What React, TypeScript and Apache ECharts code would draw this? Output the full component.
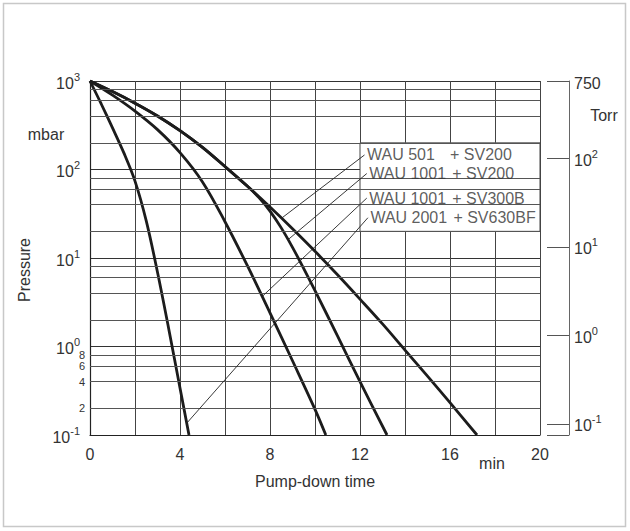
import React, { useEffect, useRef } from 'react';
import * as echarts from 'echarts';

const FONT = '"Liberation Sans", Arial, Helvetica, sans-serif';
const TEXT = '#333333';
const TORR_PER_MBAR = 0.750062;

// x axis (minutes)
const xMin = 0;
const xMax = 20;
const xStep = 2;
const xLabelEvery = 4;

// y axis (mbar)
const yMin = 0.1;
const yMax = 1000;
const minorGridValues = [0.2, 0.4, 0.6, 0.8, 2, 4, 6, 8, 20, 40, 60, 80, 200, 400, 600, 800];
const minorLabelValues = [0.2, 0.4, 0.6, 0.8];

// curves: [minutes, mbar]
const curveWAU501_SV200: [number, number][] = [
  [0, 1000], [1, 759], [2, 562], [3, 403], [4, 275], [5, 178], [6, 108], [7, 64.6], [8, 37.6],
  [9, 21.4], [10, 11.9], [11, 6.46], [12, 3.43], [13, 1.8], [14, 0.912], [15, 0.462], [16, 0.232], [17.2, 0.1],
];
const curveWAU1001_SV200: [number, number][] = [
  [0, 1000], [1, 759], [2, 562], [3, 403], [4, 275], [5, 178], [6, 108], [7, 64.6], [7.5, 48.4],
  [8, 33.9], [8.5, 21.9], [9, 13.2], [9.5, 7.59], [10, 4.27], [11, 1.32], [12, 0.4], [13.2, 0.1],
];
const curveWAU1001_SV300B: [number, number][] = [
  [0, 1000], [1, 692], [2, 457], [3, 282], [4, 155], [5, 72.4], [6, 25.7], [7, 8.13], [8, 2.4],
  [9, 0.69], [10, 0.195], [10.48, 0.1],
];
const curveWAU2001_SV630BF: [number, number][] = [
  [0, 1000], [0.5, 550], [1.0, 295], [1.5, 155], [2.0, 74], [2.5, 26.3], [3.0, 6.9], [3.5, 1.58],
  [4.0, 0.34], [4.4, 0.1],
];
const curves = [curveWAU501_SV200, curveWAU1001_SV200, curveWAU1001_SV300B, curveWAU2001_SV630BF];

// legend texts and leader lines
const legendModels = ['WAU 501', 'WAU 1001', 'WAU 1001', 'WAU 2001'];
const legendPumps = ['SV200', 'SV200', 'SV300B', 'SV630BF'];
const leaderStarts: [number, number][] = [[12.2, 146], [12.3, 90], [12.3, 47.5], [12.35, 28.5]];
const leaderEnds: [number, number][] = [[8.5, 28], [8.8, 16.1], [7.65, 3.67], [4.3, 0.136]];
const boxX = [12, 20];
const boxY = [20, 200];

const supLabel = (v: number) => {
  const e = Math.round(Math.log10(v));
  return `{b|10}{s|${e}}`;
};
const richSup = {
  b: { fontSize: 16, fontFamily: FONT, color: TEXT, lineHeight: 20, verticalAlign: 'bottom' },
  s: { fontSize: 11, fontFamily: FONT, color: TEXT, lineHeight: 10, verticalAlign: 'top' },
};

export default function App() {
  const ref = useRef<HTMLDivElement>(null);
  useEffect(() => {
    const chart = echarts.init(ref.current!, undefined, { renderer: 'svg' });
    const series: any[] = [];
    series.push({
      type: 'line',
      data: [],
      yAxisIndex: 0,
      z: 2,
      silent: true,
      markLine: {
        silent: true,
        symbol: ['none', 'none'],
        lineStyle: { type: 'solid', color: '#555', width: 1 },
        label: { show: false },
        data: minorGridValues.map((v) => ({
          yAxis: v,
          label: minorLabelValues.includes(v)
            ? { show: true, position: 'start', formatter: String(Math.round(v * 10)), distance: 5, color: TEXT, fontSize: 11, lineHeight: 11, fontFamily: FONT }
            : { show: false },
        })),
      },
    });
    series.push({
      type: 'line',
      data: [],
      z: 3,
      silent: true,
      markArea: {
        silent: true,
        itemStyle: { color: '#ffffff', borderColor: '#444', borderWidth: 1 },
        data: [[{ xAxis: boxX[0], yAxis: boxY[1] }, { xAxis: boxX[1], yAxis: boxY[0] }]],
      },
    });
    curves.forEach((c, i) => {
      series.push({
        type: 'line',
        name: `${legendModels[i]} + ${legendPumps[i]}`,
        data: c,
        z: 4,
        smooth: 0.35,
        symbol: 'none',
        lineStyle: { color: '#1c1c1c', width: 2.8 },
      });
    });
    leaderStarts.forEach((s, i) => {
      series.push({
        type: 'line',
        data: [s, leaderEnds[i]],
        z: 5,
        symbol: 'none',
        lineStyle: { color: '#222', width: 0.9 },
      });
    });
    series.push({
      type: 'scatter',
      data: leaderStarts,
      z: 6,
      symbolSize: 1,
      itemStyle: { color: 'transparent' },
      label: {
        show: true,
        position: 'right',
        distance: 2,
        formatter: (p: any) => `{a|${legendModels[p.dataIndex]}}{b|+ ${legendPumps[p.dataIndex]}}`,
        rich: {
          a: { width: 83, fontSize: 16, fontFamily: FONT, color: TEXT },
          b: { fontSize: 16, fontFamily: FONT, color: TEXT },
        },
      },
    });

    chart.setOption({
      animation: false,
      backgroundColor: '#ffffff',
      grid: { left: 90, right: 90, top: 81, bottom: 96 },
      xAxis: {
        type: 'value',
        min: xMin,
        max: xMax,
        interval: xStep,
        axisLine: { show: true, lineStyle: { color: '#222', width: 1.2 } },
        axisTick: { show: false },
        axisLabel: {
          formatter: (v: number) => (v % xLabelEvery === 0 ? String(v) : ''),
          color: TEXT,
          fontSize: 16,
          fontFamily: FONT,
          margin: 11,
        },
        splitLine: { show: true, lineStyle: { color: '#444', width: 1 } },
        name: 'Pump-down time',
        nameLocation: 'middle',
        nameGap: 38,
        nameTextStyle: { color: TEXT, fontSize: 16, fontFamily: FONT },
      },
      yAxis: [
        {
          type: 'log',
          logBase: 10,
          min: yMin,
          max: yMax,
          position: 'left',
          axisLine: { show: true, lineStyle: { color: '#222', width: 1.2 } },
          axisTick: { show: false },
          axisLabel: { formatter: supLabel, rich: richSup, margin: 10 },
          splitLine: { show: true, lineStyle: { color: '#333', width: 1 } },
        },
        {
          type: 'log',
          logBase: 10,
          min: yMin * TORR_PER_MBAR,
          max: yMax * TORR_PER_MBAR,
          position: 'right',
          offset: 29,
          axisLine: { show: true, lineStyle: { color: '#666', width: 1 } },
          axisTick: { show: true, inside: true, length: 22, lineStyle: { color: '#555', width: 1 } },
          axisLabel: {
            margin: 5,
            formatter: (v: number) => {
              const l = Math.log10(v);
              if (Math.abs(l - Math.round(l)) < 0.01) return supLabel(v);
              if (v > 500) return `{b|${Math.round(v)}}`;
              return '';
            },
            rich: richSup,
          },
          splitLine: { show: false },
        },
      ],
      graphic: [
        {
          type: 'rect',
          silent: true,
          z: -10,
          shape: { x: 3.5, y: 3.5, width: 622, height: 523 },
          style: { fill: 'none', stroke: '#c8c8c8', lineWidth: 1.5 },
        },
        { type: 'text', x: 46, y: 134, style: { text: 'mbar', fontSize: 16, fontFamily: FONT, fill: TEXT, align: 'center', verticalAlign: 'middle' } },
        { type: 'text', x: 604, y: 115, style: { text: 'Torr', fontSize: 16, fontFamily: FONT, fill: TEXT, align: 'center', verticalAlign: 'middle' } },
        { type: 'text', x: 492, y: 463, style: { text: 'min', fontSize: 16, fontFamily: FONT, fill: TEXT, align: 'center', verticalAlign: 'middle' } },
        { type: 'text', x: 24, y: 270, rotation: Math.PI / 2, style: { text: 'Pressure', fontSize: 16, fontFamily: FONT, fill: TEXT, align: 'center', verticalAlign: 'middle' } },
      ],
      series,
    });
    return () => chart.dispose();
  }, []);
  return <div ref={ref} style={{ position: 'fixed', left: 0, top: 0, width: 630, height: 531, background: '#fff' }} />;
}
